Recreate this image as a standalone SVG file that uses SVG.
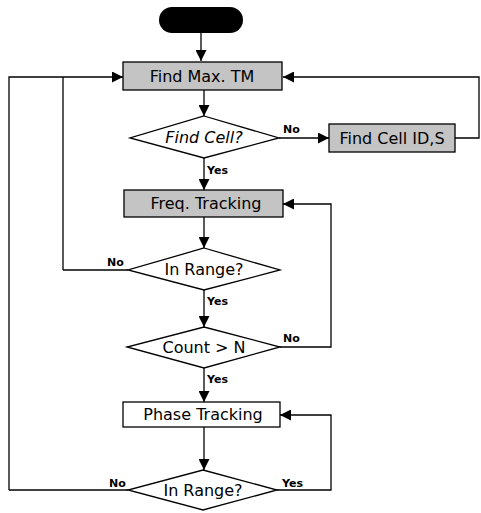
<svg xmlns="http://www.w3.org/2000/svg" width="481" height="513" viewBox="0 0 481 513">
<style>
.box{stroke:#000;stroke-width:1.3}
.grey{fill:#c4c4c4}
.white{fill:#fff}
.dia{fill:#fff;stroke:#000;stroke-width:1.3}
.t{font-family:"DejaVu Sans","Liberation Sans",sans-serif;font-size:16px;fill:#000;text-anchor:middle}
.lbl{font-family:"DejaVu Sans","Liberation Sans",sans-serif;font-size:11px;font-weight:bold;fill:#000}
.c{fill:none;stroke:#000;stroke-width:1.3}
</style>
<defs>
<marker id="ah" viewBox="0 0 10 10" refX="10" refY="5" markerWidth="11" markerHeight="11" markerUnits="userSpaceOnUse" orient="auto">
<path d="M0,0 L10,5 L0,10 Z" fill="#000"/>
</marker>
</defs>
<g id="connectors">
<path class="c" d="M201,33 V61" marker-end="url(#ah)"/>
<path class="c" d="M9,490 V77 H123" marker-end="url(#ah)"/>
<path class="c" d="M63,270 V77"/>
<path class="c" d="M455,138 H479 V77 H283" marker-end="url(#ah)"/>
<path class="c" d="M204,90 V116" marker-end="url(#ah)"/>
<path class="c" d="M279,138 H329" marker-end="url(#ah)"/>
<path class="c" d="M204,158 V190" marker-end="url(#ah)"/>
<path class="c" d="M204,217 V248" marker-end="url(#ah)"/>
<path class="c" d="M128,270 H63"/>
<path class="c" d="M204,290 V327" marker-end="url(#ah)"/>
<path class="c" d="M280,347 H331 V204 H283" marker-end="url(#ah)"/>
<path class="c" d="M204,368 V402" marker-end="url(#ah)"/>
<path class="c" d="M204,427 V470" marker-end="url(#ah)"/>
<path class="c" d="M128,490 H9"/>
<path class="c" d="M277,490 H331 V415 H280" marker-end="url(#ah)"/>
<text class="lbl" x="283" y="133">No</text>
<text class="lbl" x="207" y="174">Yes</text>
<text class="lbl" x="107" y="266">No</text>
<text class="lbl" x="207" y="305">Yes</text>
<text class="lbl" x="283" y="342">No</text>
<text class="lbl" x="207" y="383">Yes</text>
<text class="lbl" x="109" y="487">No</text>
<text class="lbl" x="282" y="487">Yes</text>
</g>
<g id="start">
<rect x="159" y="7" width="84" height="26" rx="13" fill="#000"/>
</g>
<g id="find-max">
<rect class="box grey" x="123" y="62" width="159" height="28"/>
<text class="t" x="202" y="82">Find Max. TM</text>
</g>
<g id="find-cell">
<polygon class="dia" points="204,116 279,138 204,158 130,138"/>
<text class="t" x="204" y="143" font-style="italic">Find Cell?</text>
</g>
<g id="find-cell-id">
<rect class="box grey" x="329" y="124" width="126" height="28"/>
<text class="t" x="392" y="144">Find Cell ID,S</text>
</g>
<g id="freq-tracking">
<rect class="box grey" x="124" y="190" width="159" height="27"/>
<text class="t" x="206" y="209">Freq. Tracking</text>
</g>
<g id="in-range-1">
<polygon class="dia" points="204,248 280,270 204,290 128,270"/>
<text class="t" x="204" y="275">In Range?</text>
</g>
<g id="count">
<polygon class="dia" points="204,327 280,347 204,368 127,347"/>
<text class="t" x="204" y="353">Count &gt; N</text>
</g>
<g id="phase-tracking">
<rect class="box white" x="123" y="402" width="157" height="25"/>
<text class="t" x="203" y="420">Phase Tracking</text>
</g>
<g id="in-range-2">
<polygon class="dia" points="203,470 277,490 203,510 128,490"/>
<text class="t" x="203" y="496">In Range?</text>
</g>
</svg>
